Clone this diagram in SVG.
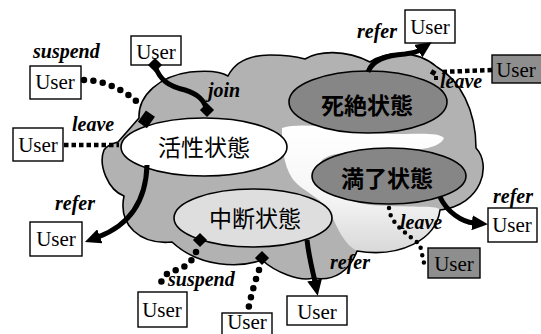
<svg xmlns="http://www.w3.org/2000/svg" width="541" height="334" viewBox="0 0 541 334">
  <style>
    .cloud { fill: #b2b2b2; stroke: none; }
    .outline { fill: none; stroke: #000; stroke-width: 1.6; stroke-linejoin: round; }
    .state { stroke: #000; stroke-width: 1.6; }
    .light { fill: #ffffff; }
    .pale { fill: #dedede; }
    .dark { fill: #868686; }
    .box { fill: #fff; stroke: #000; stroke-width: 1.4; }
    .box.dark { fill: #8e8e8e; }
    .user { font-family: "Liberation Serif", "Times New Roman", serif; font-size: 21px; fill: #000; text-anchor: middle; }
    .lbl { font-family: "Liberation Serif", "Times New Roman", serif; font-size: 20px; font-weight: bold; font-style: italic; fill: #000; }
    .st { font-family: "Noto Sans CJK JP", "Noto Sans CJK SC", sans-serif; font-size: 23px; fill: #000; text-anchor: middle; }
    .st.bold { font-weight: bold; }
    .thick { fill: none; stroke: #000; stroke-width: 5; stroke-linecap: butt; }
    .dots { fill: none; stroke: #000; stroke-width: 6.5; stroke-linecap: round; stroke-dasharray: 0 9.5; }
    .sdots { fill: none; stroke: #000; stroke-width: 4.5; stroke-linecap: round; stroke-dasharray: 0 7.5; }
    .squares { fill: none; stroke: #000; stroke-width: 4.5; stroke-dasharray: 4.5 3; }
    .knob { fill: #000; }
  </style>
  <defs>
    <marker id="arrow" markerUnits="userSpaceOnUse" markerWidth="16" markerHeight="15" viewBox="0 0 16 15" refX="2" refY="7.5" orient="auto">
      <path d="M0,0 L16,7.5 L0,15 Z" fill="#000"/>
    </marker>
    <linearGradient id="fade" x1="0" y1="0" x2="0" y2="1">
      <stop offset="0" stop-color="#ffffff"/>
      <stop offset="0.55" stop-color="#f6f6f6"/>
      <stop offset="1" stop-color="#d8d8d8"/>
    </linearGradient>
  </defs>

  <!-- cloud body -->
  <g id="cloud">
    <path id="cloud-shape" class="cloud" d="M139,118 C138,95 160,76 190,72 C210,70 222,72 228,76 C236,60 252,55 270,55 C285,55 298,57 305,59 C318,51 345,49 370,62 C385,52 415,48 437,67 C460,80 476,110 476,148 C492,165 482,205 440,210 C436,240 400,258 357,251 C350,270 335,282 313,278 C300,282 275,272 262,260 C240,268 200,268 172,242 C140,245 118,225 124,196 C108,190 98,165 104,150 C108,144 115,143 118,142 Z"/>
    <path fill="url(#fade)" d="M282,128 C310,120 350,134 390,134 C420,134 438,132 444,138 C440,148 420,150 400,151 C360,152 335,150 322,160 C312,175 325,198 370,205 C420,208 438,205 440,210 C436,240 400,258 357,251 C345,245 338,230 330,212 C322,198 300,190 292,178 C283,164 282,145 282,128 Z"/>
    <path class="outline" d="M139,118 C138,95 160,76 190,72 C210,70 222,72 228,76 C236,60 252,55 270,55 C285,55 298,57 305,59 C318,51 345,49 370,62 C385,52 415,48 437,67 C460,80 476,110 476,148 C492,165 482,205 440,210 C436,240 400,258 357,251 C350,270 335,282 313,278 C300,282 275,272 262,260 C240,268 200,268 172,242 C140,245 118,225 124,196 C108,190 98,165 104,150 C108,144 115,143 118,142 Z"/>
  </g>

  <!-- state nodes -->
  <g id="state-active">
    <ellipse class="state light" cx="204" cy="147" rx="83" ry="29"/>
    <text class="st" x="204" y="156">活性状態</text>
  </g>
  <g id="state-dead">
    <ellipse class="state dark" cx="368" cy="102" rx="79" ry="31"/>
    <text class="st bold" x="367" y="114">死絶状態</text>
  </g>
  <g id="state-expired">
    <ellipse class="state dark" cx="389" cy="176" rx="77" ry="28"/>
    <text class="st bold" x="387" y="187">満了状態</text>
  </g>
  <g id="state-suspended">
    <ellipse class="state pale" cx="253" cy="218" rx="79" ry="29"/>
    <text class="st" x="255" y="227">中断状態</text>
  </g>

  <!-- user nodes -->
  <g id="user-join">
    <rect class="box" x="131" y="36" width="50" height="29"/>
    <text class="user" x="156" y="59">User</text>
  </g>
  <g id="user-suspend-top">
    <rect class="box" x="30" y="66" width="51" height="33"/>
    <text class="user" x="55" y="89">User</text>
  </g>
  <g id="user-leave-left">
    <rect class="box" x="13" y="128" width="50" height="33"/>
    <text class="user" x="38" y="152">User</text>
  </g>
  <g id="user-refer-left">
    <rect class="box" x="30" y="222" width="52" height="34"/>
    <text class="user" x="56" y="246">User</text>
  </g>
  <g id="user-suspend-bottom">
    <rect class="box" x="138" y="292" width="49" height="35"/>
    <text class="user" x="162" y="317">User</text>
  </g>
  <g id="user-bottom">
    <rect class="box" x="222" y="313" width="50" height="30"/>
    <text class="user" x="247" y="329" font-size="18">User</text>
  </g>
  <g id="user-refer-bottom">
    <rect class="box" x="287" y="296" width="60" height="29"/>
    <text class="user" x="317" y="319">User</text>
  </g>
  <g id="user-refer-top">
    <rect class="box" x="405" y="10" width="50" height="33"/>
    <text class="user" x="430" y="34">User</text>
  </g>
  <g id="user-leave-top">
    <rect class="box dark" x="492" y="55" width="50" height="28"/>
    <text class="user" x="516" y="77">User</text>
  </g>
  <g id="user-refer-right">
    <rect class="box" x="488" y="208" width="49" height="34"/>
    <text class="user" x="512" y="232">User</text>
  </g>
  <g id="user-leave-bottom">
    <rect class="box dark" x="428" y="248" width="52" height="30"/>
    <text class="user" x="454" y="271">User</text>
  </g>

  <!-- connectors -->
  <g id="connectors">
    <!-- join -->
    <path class="thick" d="M155,66 C160,80 168,86 185,90 C198,94 204,100 207,110"/>
    <rect class="knob" x="150" y="60" width="10" height="10" transform="rotate(45 155 65)"/>
    <rect class="knob" x="202" y="105" width="10" height="10" transform="rotate(45 207 110)"/>
    <text class="lbl" x="208" y="97">join</text>

    <!-- suspend (top left) -->
    <path class="dots" d="M84,80 C100,80 125,88 141,106"/>
    <rect class="knob" x="141" y="112" width="11" height="14" transform="rotate(35 146 119)"/>
    <text class="lbl" x="33" y="58">suspend</text>

    <!-- leave (left) -->
    <path class="squares" d="M64,145 L119,145"/>
    <text class="lbl" x="72" y="131">leave</text>

    <!-- refer (left) -->
    <path class="thick" d="M147,165 C146,200 130,225 98,237" marker-end="url(#arrow)"/>
    <text class="lbl" x="55" y="210">refer</text>

    <!-- suspend (bottom) -->
    <rect class="knob" x="195" y="235" width="10" height="10" transform="rotate(45 200 240)"/>
    <path class="dots" d="M196,252 Q190,268 172,271 Q160,276 160,290"/>
    <text class="lbl" x="168" y="286">suspend</text>

    <!-- bottom user link -->
    <rect class="knob" x="257" y="253" width="10" height="10" transform="rotate(45 262 258)"/>
    <path class="dots" d="M259,270 Q252,290 248,311"/>

    <!-- refer (bottom middle) -->
    <path class="thick" d="M307,240 C309,258 313,272 315,282" marker-end="url(#arrow)"/>
    <text class="lbl" x="330" y="269">refer</text>

    <!-- refer (top right) -->
    <path class="thick" d="M368,72 C373,58 390,55 405,54 C412,53 417,52 420,50" marker-end="url(#arrow)"/>
    <text class="lbl" x="357" y="38">refer</text>

    <!-- leave (top right) -->
    <path class="squares" d="M492,70 L440,72"/>
    <rect class="knob" x="431" y="70" width="5" height="5" transform="rotate(30 433 72)"/>
    <rect class="knob" x="434" y="76" width="4" height="4"/>
    <text class="lbl" x="440" y="88">leave</text>

    <!-- refer (right) -->
    <path class="thick" d="M440,197 C447,212 462,222 474,223" marker-end="url(#arrow)"/>
    <text class="lbl" x="493" y="203">refer</text>

    <!-- leave (bottom right) -->
    <path class="sdots" d="M389,208 C390,225 410,235 420,245 L424,263"/>
    <text class="lbl" x="400" y="229">leave</text>
  </g>
</svg>
